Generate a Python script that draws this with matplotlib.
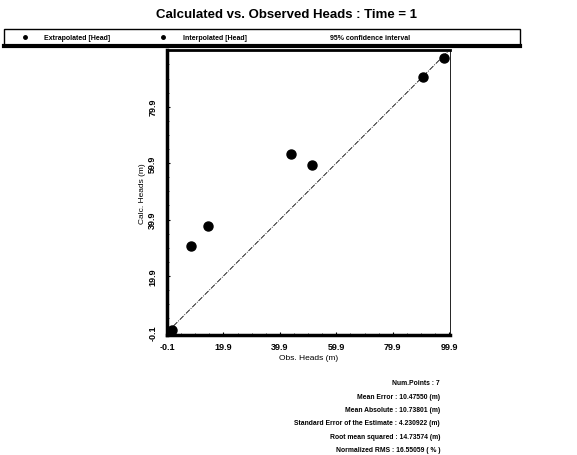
import matplotlib.pyplot as plt
from matplotlib.patches import Rectangle
from matplotlib.lines import Line2D

# observed vs calculated heads (m)
obs_heads = [1.5, 8.4, 14.6, 44.0, 51.4, 90.5, 98.1]
calc_heads = [0.8, 30.7, 37.7, 63.3, 59.4, 90.3, 97.2]

x_ticks = [-0.1, 19.9, 39.9, 59.9, 79.9, 99.9]
x_tick_labels = ["-0.1", "19.9", "39.9", "59.9", "79.9", "99.9"]
y_ticks = [-0.1, 19.9, 39.9, 59.9, 79.9]
y_tick_labels = ["-0.1", "19.9", "39.9", "59.9", "79.9"]

legend_items = ["Extrapolated [Head]", "Interpolated [Head]", "95% confidence interval"]

stats_lines = [
    "Num.Points : 7",
    "Mean Error : 10.47550 (m)",
    "Mean Absolute : 10.73801 (m)",
    "Standard Error of the Estimate : 4.230922 (m)",
    "Root mean squared : 14.73574 (m)",
    "Normalized RMS : 16.55059 ( % )",
]

plt.rcParams["font.family"] = ["Liberation Sans", "DejaVu Sans"]

fig = plt.figure(figsize=(5.77, 4.56), dpi=100)
W, H = 577.0, 456.0

# =========================
# title
# =========================
fig.text(286 / W, 1 - 15 / H, "Calculated vs. Observed Heads : Time = 1",
         ha="center", va="center", fontsize=9.5, fontweight="bold")

# =========================
# legend strip
# =========================
box = Rectangle((4 / W, 1 - 47 / H), 516 / W, 17 / H, transform=fig.transFigure,
                fill=False, edgecolor="black", linewidth=1.0)
fig.add_artist(box)
fig.add_artist(Line2D([4 / W, 520 / W], [1 - 47 / H, 1 - 47 / H],
                      transform=fig.transFigure, color="black", linewidth=3))
leg_y = 1 - 38 / H
fig.add_artist(Line2D([25 / W], [leg_y], transform=fig.transFigure, marker="o",
                      markersize=2.5, color="black", linestyle="none"))
fig.text(44 / W, leg_y, legend_items[0], ha="left", va="center", fontsize=5, fontweight="bold")
fig.add_artist(Line2D([163 / W], [leg_y], transform=fig.transFigure, marker="o",
                      markersize=2.5, color="black", linestyle="none"))
fig.text(183 / W, leg_y, legend_items[1], ha="left", va="center", fontsize=5, fontweight="bold")
fig.text(330 / W, leg_y, legend_items[2], ha="left", va="center", fontsize=5, fontweight="bold")

# =========================
# scatter
# =========================
ax = fig.add_axes([167 / W, 1 - 336 / H, 283 / W, 285 / H])
ax.plot([0, 100], [0, 100], color="black", linestyle="-.", linewidth=0.6)
ax.plot(obs_heads, calc_heads, "o", color="black", markersize=6.5, clip_on=False, zorder=3)

ax.set_xlim(-0.1, 100.2)
ax.set_ylim(-1.0, 100.0)
ax.set_xticks(x_ticks)
ax.set_xticklabels(x_tick_labels, fontsize=6.5, fontweight="bold")
ax.set_yticks(y_ticks)
ax.set_yticklabels(y_tick_labels, fontsize=6.5, fontweight="bold", rotation=90, va="center")
ax.minorticks_on()
ax.tick_params(which="major", direction="in", length=2, width=0.8)
ax.tick_params(axis="x", which="major", pad=5)
ax.tick_params(axis="y", which="major", pad=7)
ax.tick_params(which="minor", direction="in", length=1.5, width=0.5)

ax.spines["left"].set_linewidth(2.5)
ax.spines["bottom"].set_linewidth(2.5)
ax.spines["top"].set_linewidth(2.0)
ax.spines["right"].set_linewidth(0.6)

ax.set_xlabel("Obs. Heads (m)", fontsize=6, labelpad=2)
ax.set_ylabel("Calc. Heads (m)", fontsize=6, labelpad=2)

# =========================
# statistics
# =========================
for i, line in enumerate(stats_lines):
    fig.text(440 / W, 1 - (384 + i * 13.3) / H, line, ha="right", va="center",
             fontsize=4.9, fontweight="bold")

fig.savefig("out.png", dpi=100)
